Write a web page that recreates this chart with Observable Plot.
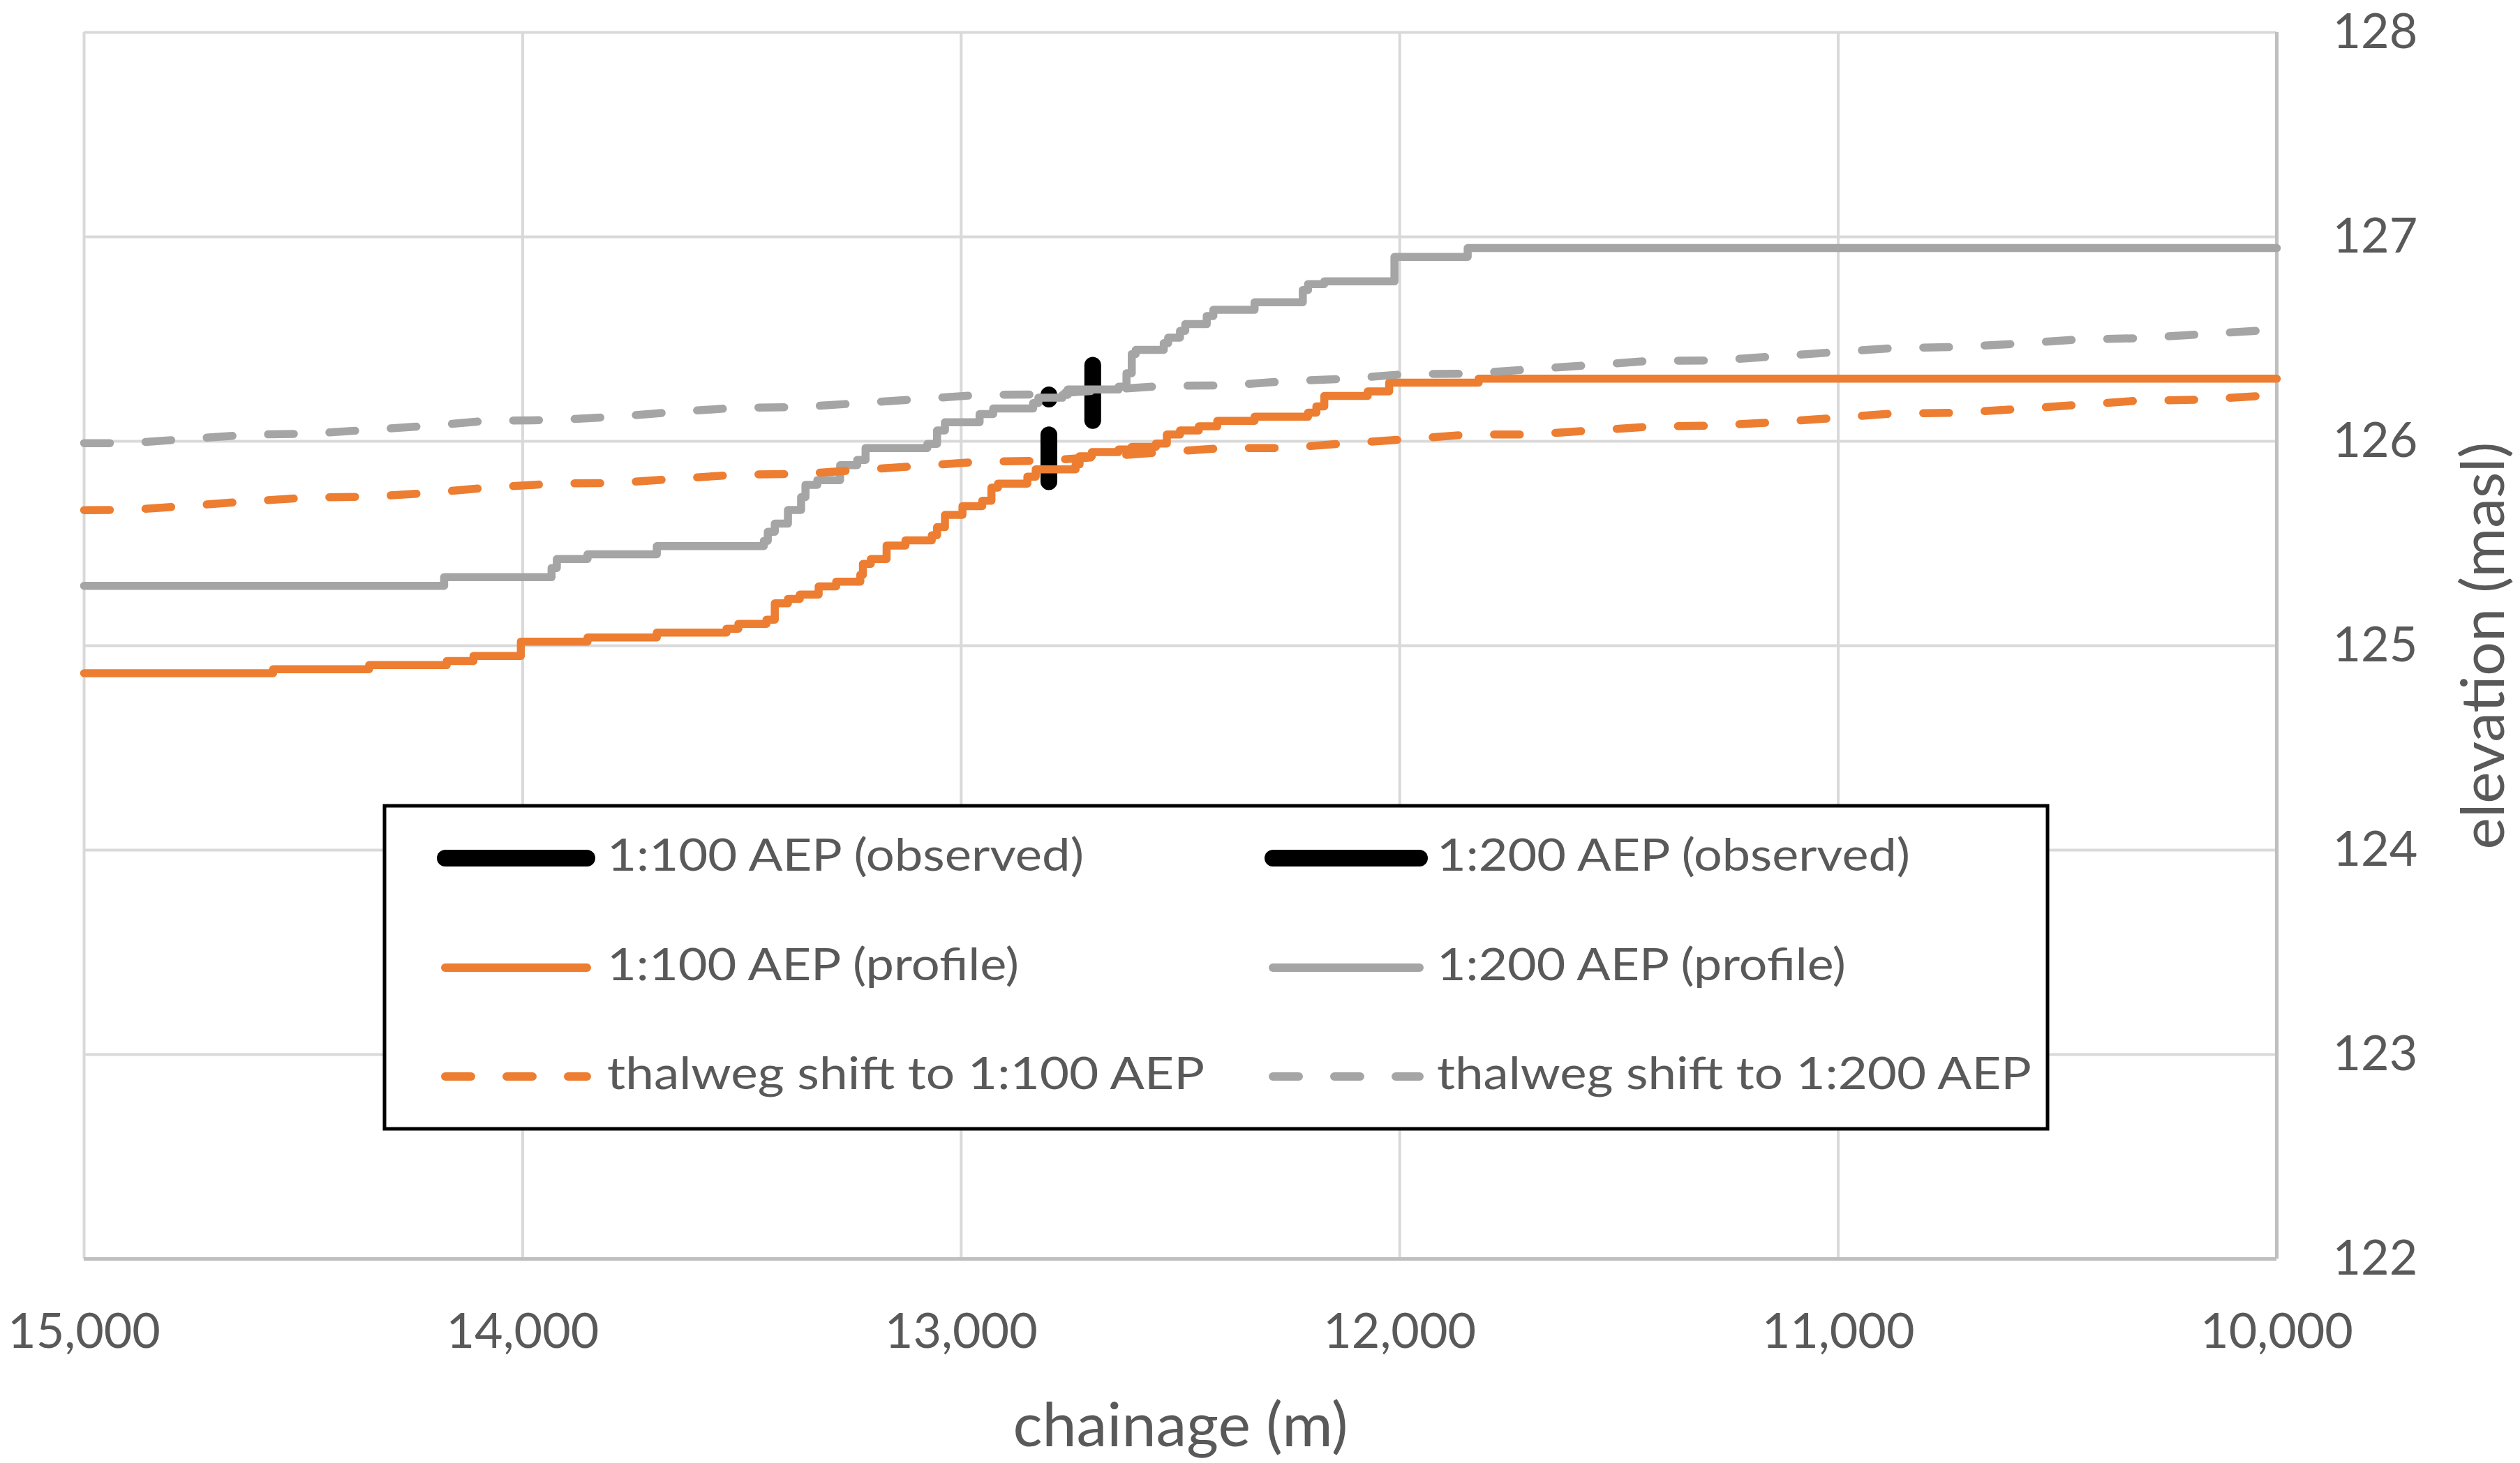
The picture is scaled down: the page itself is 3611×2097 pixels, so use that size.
<!DOCTYPE html>
<html>
<head>
<meta charset="utf-8">
<script src="https://cdn.jsdelivr.net/npm/d3@7"></script>
<script src="https://cdn.jsdelivr.net/npm/@observablehq/plot@0.6"></script>
<style>
  html, body { margin: 0; padding: 0; background: #fff; }
  #wrap { position: relative; width: 3611px; height: 2097px; overflow: hidden; }
  #legend { position: absolute; left: 0; top: 0; pointer-events: none; }
</style>
</head>
<body>
<div id="wrap"></div>
<script>
// ---------- data ----------
const xTicks = [15000, 14000, 13000, 12000, 11000, 10000];
const yTicks = [122, 123, 124, 125, 126, 127, 128];

const seriesNames = [
  "1:100 AEP (observed)", "1:200 AEP (observed)",
  "1:100 AEP (profile)", "1:200 AEP (profile)",
  "thalweg shift to 1:100 AEP", "thalweg shift to 1:200 AEP"
];

// observed ranges (vertical bars)
const obs100Chainage = [12800];
const obs100Low = [125.80];
const obs100High = [126.03];
const obs200Chainage = [12800, 12700];
const obs200Low = [126.205, 126.10];
const obs200High = [126.225, 126.37];

// 1:100 AEP profile (stepped)
const profile100Chainage = [15000, 14569, 14350, 14173, 14112, 14004, 13852, 13694, 13535, 13508, 13444, 13425, 13395, 13368, 13325, 13285, 13230, 13224, 13206, 13170, 13127, 13067, 13055, 13037, 12997, 12952, 12931, 12916, 12849, 12830, 12739, 12730, 12702, 12641, 12611, 12556, 12531, 12501, 12458, 12416, 12331, 12209, 12190, 12172, 12073, 12024, 11820, 10000];
const profile100Elevation = [124.865, 124.885, 124.905, 124.925, 124.95, 125.02, 125.04, 125.064, 125.083, 125.107, 125.127, 125.207, 125.229, 125.25, 125.29, 125.313, 125.347, 125.40, 125.424, 125.49, 125.515, 125.54, 125.58, 125.64, 125.683, 125.709, 125.773, 125.793, 125.827, 125.863, 125.887, 125.927, 125.947, 125.96, 125.973, 125.989, 126.033, 126.053, 126.073, 126.10, 126.12, 126.14, 126.171, 126.222, 126.244, 126.287, 126.306, 126.306];

// 1:200 AEP profile (stepped)
const profile200Chainage = [15000, 14179, 13934, 13922, 13852, 13694, 13450, 13441, 13425, 13395, 13365, 13355, 13328, 13276, 13237, 13218, 13077, 13055, 13037, 12958, 12927, 12836, 12824, 12769, 12757, 12641, 12623, 12611, 12602, 12538, 12528, 12501, 12489, 12440, 12425, 12331, 12221, 12209, 12172, 12012, 11845, 10000];
const profile200Elevation = [125.293, 125.335, 125.38, 125.424, 125.447, 125.487, 125.513, 125.557, 125.597, 125.664, 125.727, 125.787, 125.81, 125.883, 125.909, 125.967, 125.987, 126.053, 126.093, 126.133, 126.16, 126.187, 126.213, 126.227, 126.253, 126.267, 126.333, 126.427, 126.447, 126.48, 126.507, 126.54, 126.573, 126.613, 126.643, 126.68, 126.74, 126.769, 126.782, 126.902, 126.945, 126.945];

// thalweg shift lines (dashed)
const thalwegChainage = [15000, 14898, 14758, 14618, 14484, 14344, 14204, 14082, 13925, 13788, 13651, 13510, 13370, 13230, 13092, 12958, 12818, 12678, 12538, 12398, 12263, 12121, 11985, 11844, 11704, 11567, 11427, 11291, 11152, 11014, 10875, 10734, 10595, 10458, 10320, 10181, 10043, 10000];
const thalweg100Elevation = [125.663, 125.664, 125.685, 125.707, 125.725, 125.729, 125.749, 125.773, 125.793, 125.796, 125.816, 125.837, 125.84, 125.86, 125.88, 125.90, 125.904, 125.925, 125.947, 125.967, 125.967, 125.99, 126.01, 126.033, 126.033, 126.052, 126.072, 126.076, 126.092, 126.113, 126.136, 126.139, 126.157, 126.177, 126.198, 126.203, 126.221, 126.222];
const thalweg200Elevation = [125.991, 125.991, 126.012, 126.033, 126.037, 126.057, 126.077, 126.10, 126.104, 126.12, 126.144, 126.164, 126.167, 126.187, 126.207, 126.227, 126.229, 126.25, 126.271, 126.273, 126.293, 126.306, 126.329, 126.33, 126.352, 126.372, 126.394, 126.395, 126.414, 126.435, 126.456, 126.461, 126.477, 126.497, 126.504, 126.522, 126.541, 126.543];

// ---------- build tables ----------
const zip = (xs, ys) => xs.map((x, i) => ({x, y: ys[i]}));
const bars = (xs, lo, hi) => xs.map((x, i) => ({x, y1: lo[i], y2: hi[i]}));

const profile100 = zip(profile100Chainage, profile100Elevation);
const profile200 = zip(profile200Chainage, profile200Elevation);
const thalweg100 = zip(thalwegChainage, thalweg100Elevation);
const thalweg200 = zip(thalwegChainage, thalweg200Elevation);
const obs100 = bars(obs100Chainage, obs100Low, obs100High);
const obs200 = bars(obs200Chainage, obs200Low, obs200High);

const ORANGE = "#ED7D31", GREY = "#A5A5A5", TEXT = "#595959", GRID = "#D9D9D9", AXIS = "#BFBFBF";
const FONT = "Lato, 'Liberation Sans', sans-serif";

const W = 3611, H = 2097;
const mTop = 46, mRight = 349, mBottom = 293, mLeft = 120;

const chart = Plot.plot({
  width: W,
  height: H,
  marginTop: mTop,
  marginRight: mRight,
  marginBottom: mBottom,
  marginLeft: mLeft,
  style: {fontFamily: FONT, color: TEXT, background: "white", overflow: "visible"},
  x: {type: "linear", domain: [15000, 10000]},
  y: {type: "linear", domain: [122, 128]},
  marks: [
    Plot.gridX(xTicks, {stroke: GRID, strokeOpacity: 1, strokeWidth: 4}),
    Plot.gridY(yTicks, {stroke: GRID, strokeOpacity: 1, strokeWidth: 4}),
    Plot.ruleY([122], {stroke: AXIS, strokeWidth: 5}),
    Plot.ruleX([10000], {stroke: AXIS, strokeWidth: 5}),
    Plot.axisX(xTicks, {
      anchor: "bottom", tickSize: 0, tickPadding: 78, fontSize: 70,
      tickFormat: d3.format(","), fill: TEXT, label: null
    }),
    Plot.axisY(yTicks, {
      anchor: "right", tickSize: 0, tickPadding: 80, fontSize: 70,
      tickFormat: d3.format("d"), textAnchor: "start", fill: TEXT, label: null
    }),
    // observed bars (drawn first, beneath the lines)
    Plot.ruleX(obs100, {x: "x", y1: "y1", y2: "y2", stroke: "#000", strokeWidth: 24, strokeLinecap: "round"}),
    Plot.ruleX(obs200, {x: "x", y1: "y1", y2: "y2", stroke: "#000", strokeWidth: 24, strokeLinecap: "round"}),
    // profiles
    Plot.line(profile100, {x: "x", y: "y", curve: "step-after", stroke: ORANGE, strokeWidth: 11.5, strokeLinejoin: "round", strokeLinecap: "round"}),
    Plot.line(profile200, {x: "x", y: "y", curve: "step-after", stroke: GREY, strokeWidth: 11.5, strokeLinejoin: "round", strokeLinecap: "round"}),
    // thalweg shifts
    Plot.line(thalweg100, {x: "x", y: "y", stroke: ORANGE, strokeWidth: 11.5, strokeDasharray: "37,51", strokeLinecap: "round", strokeLinejoin: "round"}),
    Plot.line(thalweg200, {x: "x", y: "y", stroke: GREY, strokeWidth: 11.5, strokeDasharray: "37,51", strokeLinecap: "round", strokeLinejoin: "round"}),
    // axis titles
    Plot.text(["chainage (m)"], {frameAnchor: "bottom", dy: 240, fontSize: 88, fill: TEXT, lineAnchor: "middle", textAnchor: "middle"}),
    Plot.text(["elevation (masl)"], {frameAnchor: "right", dx: 298, rotate: -90, fontSize: 86, fill: TEXT, lineAnchor: "middle", textAnchor: "middle"})
  ]
});

const wrap = document.getElementById("wrap");
wrap.appendChild(chart);

// ---------- legend (overlay) ----------
const NS = "http://www.w3.org/2000/svg";
const leg = document.createElementNS(NS, "svg");
leg.setAttribute("id", "legend");
leg.setAttribute("width", W);
leg.setAttribute("height", H);
leg.setAttribute("viewBox", `0 0 ${W} ${H}`);
wrap.appendChild(leg);

const box = document.createElementNS(NS, "rect");
box.setAttribute("x", 551); box.setAttribute("y", 1155);
box.setAttribute("width", 2934 - 551); box.setAttribute("height", 1618 - 1155);
box.setAttribute("fill", "#fff"); box.setAttribute("stroke", "#000"); box.setAttribute("stroke-width", 5);
leg.appendChild(box);

const legendItems = [
  {name: seriesNames[0], color: "#000", width: 24, dash: null, col: 0, row: 0, len: 683},
  {name: seriesNames[1], color: "#000", width: 24, dash: null, col: 1, row: 0, len: 678},
  {name: seriesNames[2], color: ORANGE, width: 12, dash: null, col: 0, row: 1, len: 590},
  {name: seriesNames[3], color: GREY, width: 12, dash: null, col: 1, row: 1, len: 586},
  {name: seriesNames[4], color: ORANGE, width: 12, dash: "37,51", col: 0, row: 2, len: 856},
  {name: seriesNames[5], color: GREY, width: 12, dash: "37,51", col: 1, row: 2, len: 852}
];
const colLine = [[638, 841], [1824, 2034]];
const colText = [870, 2059];
const rowY = [1230, 1387, 1543];

for (const it of legendItems) {
  const y = rowY[it.row];
  const ln = document.createElementNS(NS, "line");
  ln.setAttribute("x1", colLine[it.col][0]); ln.setAttribute("x2", colLine[it.col][1]);
  ln.setAttribute("y1", y); ln.setAttribute("y2", y);
  ln.setAttribute("stroke", it.color); ln.setAttribute("stroke-width", it.width);
  ln.setAttribute("stroke-linecap", "round");
  if (it.dash) ln.setAttribute("stroke-dasharray", it.dash);
  leg.appendChild(ln);
  const t = document.createElementNS(NS, "text");
  t.setAttribute("x", colText[it.col]);
  t.setAttribute("y", y + 18);
  t.setAttribute("font-family", FONT);
  t.setAttribute("font-size", 64);
  t.setAttribute("fill", TEXT);
  t.setAttribute("textLength", it.len);
  t.setAttribute("lengthAdjust", "spacingAndGlyphs");
  t.textContent = it.name;
  leg.appendChild(t);
}
</script>
</body>
</html>
